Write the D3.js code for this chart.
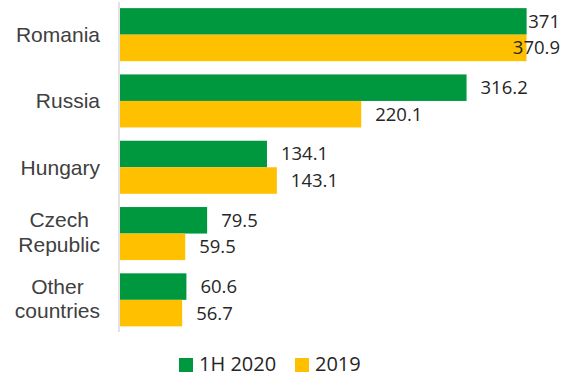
<!DOCTYPE html>
<html>
<head>
<meta charset="utf-8">
<script src="https://cdn.jsdelivr.net/npm/d3@7"></script>
<style>
  html, body { margin: 0; padding: 0; background: #fff; }
  svg { display: block; }
</style>
</head>
<body>
<svg id="chart" width="562" height="377"></svg>
<script>
// Volumes by country, 1H 2020 against full-year 2019
const categories = ["Romania", "Russia", "Hungary", "Czech Republic", "Other countries"];
const categoryLines = [["Romania"], ["Russia"], ["Hungary"], ["Czech", "Republic"], ["Other", "countries"]];
const seriesNames = ["1H 2020", "2019"];
const values1H2020 = [371, 316.2, 134.1, 79.5, 60.6];
const values2019 = [370.9, 220.1, 143.1, 59.5, 56.7];
const valueLabels1H2020 = ["371", "316.2", "134.1", "79.5", "60.6"];
const valueLabels2019 = ["370.9", "220.1", "143.1", "59.5", "56.7"];
const seriesColors = ["#00983f", "#ffc000"];

const W = 562, H = 377;
const svg = d3.select("#chart");

const seriesValues = [values1H2020, values2019];
const seriesLabels = [valueLabels1H2020, valueLabels2019];

const x = d3.scaleLinear().domain([0, 400]).range([120, 558.4]);
const y = d3.scaleBand().domain(categories).range([1.5, 333]).paddingInner(0.2).paddingOuter(0.1);
const ySub = d3.scaleBand().domain(seriesNames).range([0, y.bandwidth()]);

const rows = categories.map((c, i) => ({
  cat: c,
  lines: categoryLines[i],
  bars: seriesNames.map((s, j) => ({ s, v: seriesValues[j][i], label: seriesLabels[j][i], color: seriesColors[j] }))
}));

const groups = svg.selectAll("g.row").data(rows).join("g")
  .attr("class", "row")
  .attr("transform", d => `translate(0,${y(d.cat)})`);

groups.selectAll("rect").data(d => d.bars).join("rect")
  .attr("x", x(0))
  .attr("y", d => ySub(d.s))
  .attr("width", d => x(d.v) - x(0))
  .attr("height", ySub.bandwidth())
  .attr("fill", d => d.color);

// value labels, pulled back inside the frame when they would run off the right edge
groups.selectAll("text.val").data(d => d.bars).join("text")
  .attr("class", "val")
  .attr("font-family", "'Open Sans', sans-serif")
  .attr("font-size", 18.5)
  .attr("fill", "#262626")
  .attr("y", d => ySub(d.s) + ySub.bandwidth() / 2 + 6.5)
  .text(d => d.label)
  .each(function(d) {
    const w = this.getComputedTextLength();
    const end = x(d.v);
    let px = end + 14;
    if (px + w > W - 2) px = Math.min(end + 2, W - 2 - w);
    d3.select(this).attr("x", px);
  });

// vertical axis line
svg.append("line")
  .attr("x1", x(0) - 1).attr("x2", x(0) - 1)
  .attr("y1", 2).attr("y2", 332)
  .attr("stroke", "#d9d9d9").attr("stroke-width", 1.5);

// category labels: block right-aligned to the axis, lines centred within it
const lh = 24.5;
groups.each(function(d) {
  const g = d3.select(this);
  const t = g.append("text")
    .attr("font-family", "'Liberation Sans', Arial, sans-serif")
    .attr("font-size", 21)
    .attr("fill", "#404040")
    .attr("text-anchor", "middle");
  const n = d.lines.length;
  const cy = y.bandwidth() / 2;
  d.lines.forEach((ln, k) => {
    t.append("tspan")
      .attr("y", cy + 7.5 - 1.5 * (n - 1) + (k - (n - 1) / 2) * lh)
      .text(ln);
  });
  let maxW = 0;
  t.selectAll("tspan").each(function() { maxW = Math.max(maxW, this.getComputedTextLength()); });
  t.selectAll("tspan").attr("x", 100 - maxW / 2);
});

// legend
const legendX = [179, 295];
const lg = svg.selectAll("g.legend").data(seriesNames).join("g")
  .attr("class", "legend")
  .attr("transform", (d, i) => `translate(${legendX[i]},357)`);
lg.append("rect")
  .attr("y", 1)
  .attr("width", 14).attr("height", 14)
  .attr("fill", (d, i) => seriesColors[i]);
lg.append("text")
  .attr("x", 20).attr("y", 14)
  .attr("font-family", "'Open Sans', sans-serif")
  .attr("font-size", 20)
  .attr("fill", "#262626")
  .text(d => d);
</script>
</body>
</html>
